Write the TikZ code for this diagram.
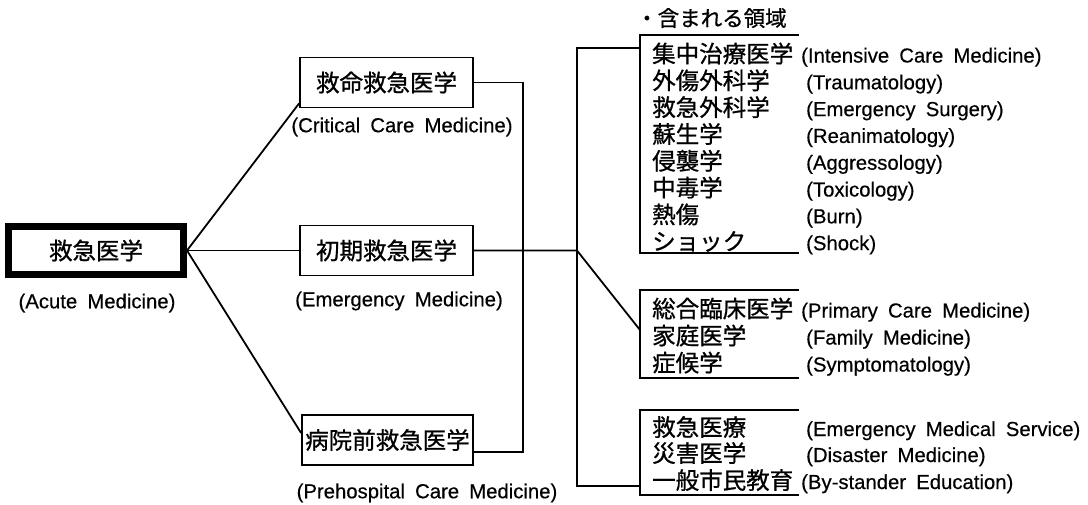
\documentclass[tikz,border=0pt]{standalone}
\usepackage{fontspec}
\newfontfamily\jp{Noto Sans CJK JP}[FakeBold=0.8]
\newfontfamily\en{Liberation Sans}[WordSpace=1.8,FakeBold=0.4]
\newcommand{\jpf}{\jp\fontsize{23.5}{28}\selectfont}
\newcommand{\enf}{\en\fontsize{20.3}{24}\selectfont}
\tikzset{
  conn/.style={line width=1.8pt, line join=miter},
  jbox/.style={draw, line width=1.8pt, minimum width=173pt, minimum height=50pt, inner sep=0pt, font=\jpf},
  jt/.style={anchor=base west, inner sep=0pt, font=\jpf},
  et/.style={anchor=base west, inner sep=0pt, font=\enf},
  ec/.style={inner sep=0pt, font=\enf},
}
\begin{document}
\begin{tikzpicture}[x=1pt,y=-1pt]
\fill[white] (0,0) rectangle (1088,504);
\useasboundingbox (0,0) rectangle (1088,504);

% main boxes
\node[jbox, line width=7pt, minimum width=175pt, minimum height=48pt] (root) at (96,250.5) {救急医学};
\node[ec] (rootl) at (97,303) {(Acute Medicine)};

\node[jbox] (top) at (386.5,82.5) {救命救急医学};
\node[ec] (topl) at (402,127) {(Critical Care Medicine)};
\node[jbox] (mid) at (386.5,250.5) {初期救急医学};
\node[ec] (midl) at (399,301) {(Emergency Medicine)};
\node[jbox, minimum width=171pt] (bot) at (387.5,440) {病院前救急医学};
\node[ec] (botl) at (427,493) {(Prehospital Care Medicine)};

% connectors from root
\draw[conn] (root.east) -- ([yshift=5pt]top.south west);
\draw[conn] (root.east) -- (mid.west);
\draw[conn] (root.east) -- ([yshift=7pt]bot.west);

% first bus
\coordinate (bus1) at (523,250.5);
\draw[conn] (top.east) -| (bus1) |- ([yshift=-12pt]bot.east);
% second bus
\coordinate (bus2) at (577,250.5);
\coordinate (g1in) at (640,48);
\coordinate (g2in) at (640,330);
\coordinate (g3in) at (640,486);
\draw[conn] (mid.east) -- (bus2) -- (g2in);
\draw[conn] (g1in) -| (bus2) |- (g3in);

% group brackets
\draw[conn] (799,35) -- (640,35) -- (640,253) -- (799,253);
\draw[conn] (799,290) -- (640,290) -- (640,378) -- (799,378);
\draw[conn] (799,410) -- (640,410) -- (640,495) -- (799,495);

% header
\node[anchor=base west, inner sep=0pt, font=\jp\fontsize{21.5}{26}\selectfont] (hdr) at (636,26.2) {・含まれる領域};

% group 1
\node[jt] (a1) at (652,62.5) {集中治療医学};
\node[et] (e1) at (801,62.5) {(Intensive Care Medicine)};
\node[jt] (a2) at (652,89.3) {外傷外科学};
\node[et] (e2) at (806,89.3) {(Traumatology)};
\node[jt] (a3) at (652,116.1) {救急外科学};
\node[et] (e3) at (806,116.1) {(Emergency Surgery)};
\node[jt] (a4) at (652,142.9) {蘇生学};
\node[et] (e4) at (806,142.9) {(Reanimatology)};
\node[jt] (a5) at (652,169.7) {侵襲学};
\node[et] (e5) at (806,169.7) {(Aggressology)};
\node[jt] (a6) at (652,196.5) {中毒学};
\node[et] (e6) at (806,196.5) {(Toxicology)};
\node[jt] (a7) at (652,223.3) {熱傷};
\node[et] (e7) at (806,223.3) {(Burn)};
\node[jt] (a8) at (652,250.1) {ショック};
\node[et] (e8) at (806,250.1) {(Shock)};

% group 2
\node[jt] (b1) at (652,317.5) {総合臨床医学};
\node[et] (f1) at (801,317.5) {(Primary Care Medicine)};
\node[jt] (b2) at (652,344.5) {家庭医学};
\node[et] (f2) at (806,344.5) {(Family Medicine)};
\node[jt] (b3) at (652,371.5) {症候学};
\node[et] (f3) at (806,371.5) {(Symptomatology)};

% group 3
\node[jt] (c1) at (652,436) {救急医療};
\node[et] (h1) at (806,436) {(Emergency Medical Service)};
\node[jt] (c2) at (652,462) {災害医学};
\node[et] (h2) at (806,462) {(Disaster Medicine)};
\node[jt] (c3) at (652,489) {一般市民教育};
\node[et] (h3) at (801,489) {(By-stander Education)};
\end{tikzpicture}
\end{document}
